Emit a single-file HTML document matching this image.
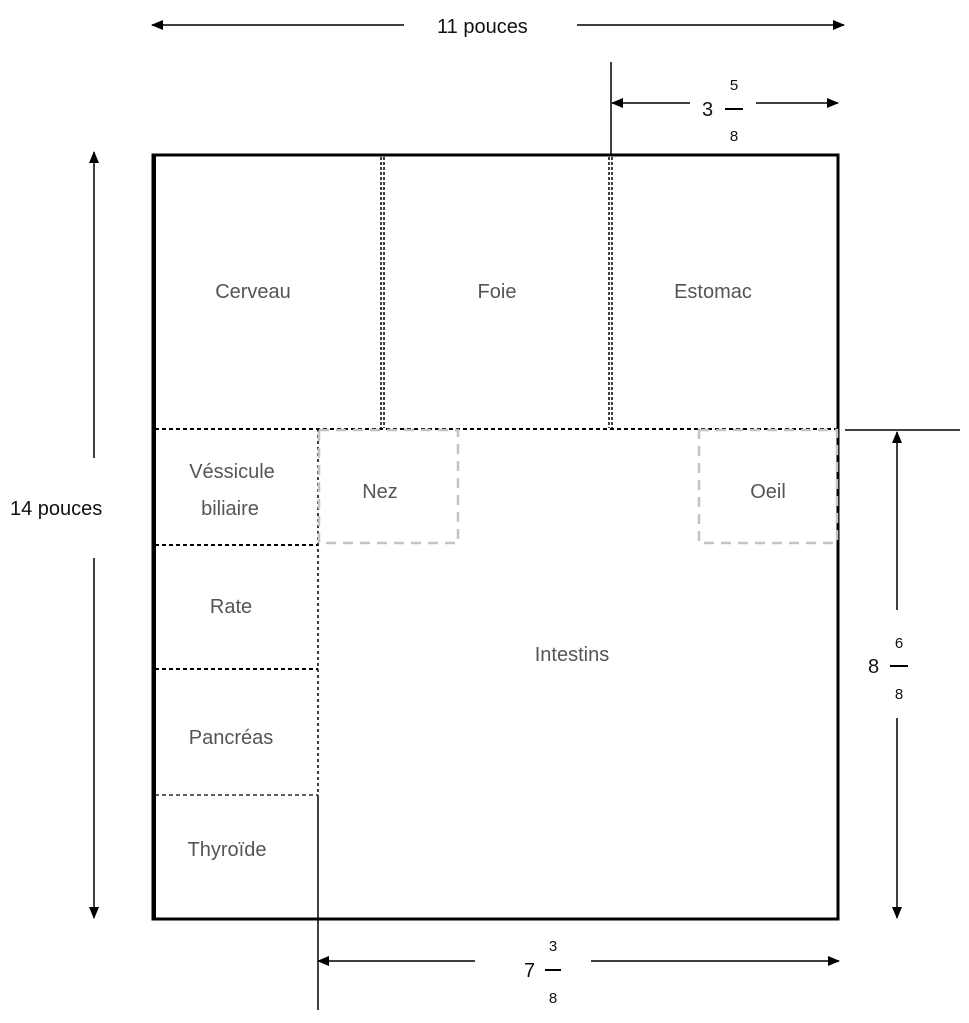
<!DOCTYPE html>
<html><head><meta charset="utf-8"><style>
html,body{margin:0;padding:0;background:#fff;width:969px;height:1023px;overflow:hidden}
svg{display:block}
.d{font-family:"Liberation Sans",sans-serif;font-size:20px;fill:#111}
.l{font-family:"Liberation Sans",sans-serif;font-size:20px;fill:#555;text-anchor:middle}
</style></head><body>
<svg width="969" height="1023" viewBox="0 0 969 1023">
<defs>
<marker id="a" markerWidth="12" markerHeight="10" refX="11" refY="5" orient="auto" markerUnits="userSpaceOnUse">
<path d="M0,0 L12,5 L0,10 z" fill="#000"/></marker>
</defs>
<!-- main rect -->
<rect x="153" y="155" width="685" height="764" fill="none" stroke="#000" stroke-width="3"/>
<line x1="154" y1="155" x2="154" y2="919" stroke="#000" stroke-width="4"/>
<!-- vertical double dotted -->
<g stroke="#000" stroke-width="1.5" stroke-dasharray="3 2">
<line x1="381" y1="157" x2="381" y2="428"/><line x1="384" y1="157" x2="384" y2="428"/>
<line x1="609" y1="157" x2="609" y2="428"/><line x1="612" y1="157" x2="612" y2="428"/>
</g>
<!-- horizontal dashed -->
<g stroke="#000" stroke-width="2" stroke-dasharray="4 3">
<line x1="155" y1="429" x2="838" y2="429"/>
<line x1="155" y1="545" x2="318" y2="545"/>
<line x1="155" y1="669" x2="318" y2="669"/>
</g>
<line x1="155" y1="795" x2="318" y2="795" stroke="#000" stroke-width="1.3" stroke-dasharray="4 3"/>
<line x1="318" y1="429" x2="318" y2="795" stroke="#000" stroke-width="1.5" stroke-dasharray="3 3"/>
<line x1="318" y1="795" x2="318" y2="1010" stroke="#000" stroke-width="1.5"/>
<!-- Nez / Oeil grey dashed -->
<g fill="none" stroke="#c4c4c4" stroke-width="2.5" stroke-dasharray="10 7">
<rect x="319" y="430" width="139" height="113"/>
<rect x="699" y="430" width="138" height="113"/>
</g>
<!-- extension lines -->
<line x1="611" y1="62" x2="611" y2="155" stroke="#000" stroke-width="1.5"/>
<line x1="845" y1="430" x2="960" y2="430" stroke="#000" stroke-width="1.5"/>
<!-- dimension arrows -->
<g stroke="#000" stroke-width="1.5" fill="none">
<line x1="404" y1="25" x2="152" y2="25" marker-end="url(#a)"/>
<line x1="577" y1="25" x2="844" y2="25" marker-end="url(#a)"/>
<line x1="690" y1="103" x2="612" y2="103" marker-end="url(#a)"/>
<line x1="756" y1="103" x2="838" y2="103" marker-end="url(#a)"/>
<line x1="94" y1="458" x2="94" y2="152" marker-end="url(#a)"/>
<line x1="94" y1="558" x2="94" y2="918" marker-end="url(#a)"/>
<line x1="897" y1="610" x2="897" y2="432" marker-end="url(#a)"/>
<line x1="897" y1="718" x2="897" y2="918" marker-end="url(#a)"/>
<line x1="475" y1="961" x2="318" y2="961" marker-end="url(#a)"/>
<line x1="591" y1="961" x2="839" y2="961" marker-end="url(#a)"/>
<line x1="725" y1="109" x2="743" y2="109" stroke-width="2"/>
<line x1="890" y1="666" x2="908" y2="666" stroke-width="2"/>
<line x1="545" y1="970" x2="561" y2="970" stroke-width="2"/>
</g>
<text class="d" x="437" y="33">11 pouces</text>
<text class="d" x="702" y="116">3</text>
<text class="d" x="734" y="90" text-anchor="middle" style="font-size:15px">5</text>
<text class="d" x="734" y="141" text-anchor="middle" style="font-size:15px">8</text>
<text class="d" x="10" y="515">14 pouces</text>
<text class="d" x="868" y="673">8</text>
<text class="d" x="899" y="648" text-anchor="middle" style="font-size:15px">6</text>
<text class="d" x="899" y="699" text-anchor="middle" style="font-size:15px">8</text>
<text class="d" x="524" y="977">7</text>
<text class="d" x="553" y="951" text-anchor="middle" style="font-size:15px">3</text>
<text class="d" x="553" y="1003" text-anchor="middle" style="font-size:15px">8</text>
<!-- labels -->
<text class="l" x="253" y="298">Cerveau</text>
<text class="l" x="497" y="298">Foie</text>
<text class="l" x="713" y="298">Estomac</text>
<text class="l" x="232" y="478">Véssicule</text>
<text class="l" x="230" y="515">biliaire</text>
<text class="l" x="380" y="498">Nez</text>
<text class="l" x="768" y="498">Oeil</text>
<text class="l" x="231" y="613">Rate</text>
<text class="l" x="572" y="661">Intestins</text>
<text class="l" x="231" y="744">Pancréas</text>
<text class="l" x="227" y="856">Thyroïde</text>
</svg>
</body></html>
